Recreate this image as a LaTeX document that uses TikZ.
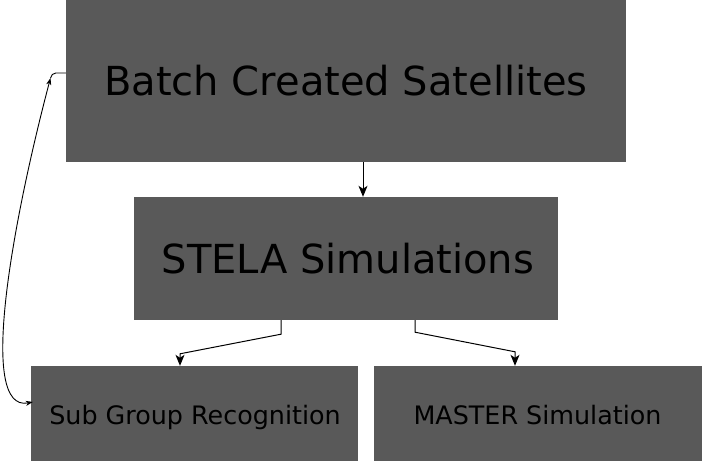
\documentclass[tikz,border=0pt]{standalone}
\usepackage{fontspec}
\setmainfont{DejaVu Sans}
\usetikzlibrary{arrows.meta,calc}
\definecolor{boxgray}{HTML}{595959}
\tikzset{
  box/.style={rectangle, fill=boxgray, inner sep=0pt, text=black},
  big/.style={font=\fontsize{40}{48}\selectfont},
  small/.style={font=\fontsize{25.4}{30}\selectfont},
  arr/.style={line width=1pt, -{Stealth[length=11pt,width=9pt,inset=3pt]}},
  fbarr/.style={line width=0.9pt, {Stealth[length=7pt,width=5pt,inset=2pt]}-{Stealth[length=7pt,width=5pt,inset=2pt]}}
}
\begin{document}
\begin{tikzpicture}[x=1pt,y=1pt]
\useasboundingbox (0,0) rectangle (703,463);
\node[box,minimum width=560pt,minimum height=162pt] (b1) at (346,382) {};
\node[big] (t1) at (346,382) {Batch Created Satellites};
\node[box,minimum width=424pt,minimum height=123pt] (b2) at (346,204.5) {};
\node[big] (t2) at (348,204.5) {STELA Simulations};
\node[box,minimum width=327pt,minimum height=95pt] (b3) at (194.5,49.5) {};
\node[small] (t3) at (195,45.5) {Sub Group Recognition};
\node[box,minimum width=328pt,minimum height=95pt] (b4) at (538,49.5) {};
\node[small] (t4) at (537.5,48) {MASTER Simulation};
\coordinate (fb) at (50.5,385);
\draw[arr] ($(b1.south)+(17,0)$) -- ($(b2.north)+(17,0)$);
\draw[arr] ($(b2.south)+(-65,0)$) -- ++(0,-14) -- ($(b3.north)+(-14.5,12)$) -- ($(b3.north)+(-14.5,0)$);
\draw[arr] ($(b2.south)+(69,0)$) -- ++(0,-12) -- ($(b4.north)+(-23,14)$) -- ($(b4.north)+(-23,0)$);
\draw[line width=0.9pt] ($(b1.west)+(0,8)$) -- ++(-10,0) to[out=180,in=75] (fb);
\draw[fbarr] (fb) .. controls (13,243) and (-23,50) .. ($(b3.west)+(2,11.5)$);
\end{tikzpicture}
\end{document}
